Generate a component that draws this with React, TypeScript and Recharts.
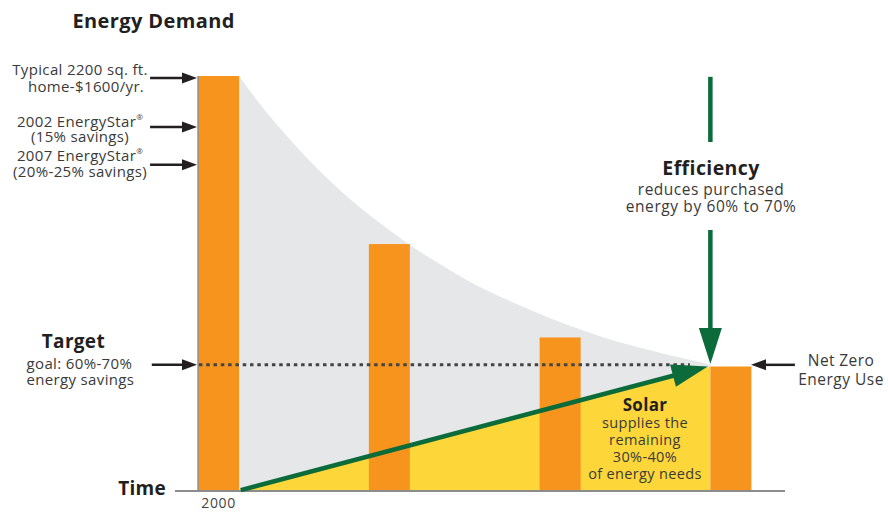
import React from 'react';
import { ComposedChart, Bar, Area, XAxis, YAxis, ReferenceLine, ReferenceDot } from 'recharts';

// ---- data ----
const steps = [0, 1, 2, 3];
const demand = [100, 59.5, 37, 30];
const tickLabels = ['2000'];
const demandCurveX = [0.12, 0.196, 0.354, 0.512, 0.711, 0.986, 1.121, 1.256, 1.455, 1.841, 2.234, 2.626, 2.88];
const demandCurveY = [100, 95.7, 87.7, 80.5, 72.5, 63.3, 59.3, 55.7, 50.8, 43.4, 37.3, 32.9, 30.5];
const solarX = [0.12, 2.88];
const solarY = [0, 30];
const markerLevels = [99.5, 87.7, 78.6]; // typical, EnergyStar 2002, EnergyStar 2007
const targetLevel = 30.4;

const barData = steps.map((t, i) => ({ t, demand: demand[i] }));
const grayData = demandCurveX.map((t, i) => ({ t, v: demandCurveY[i] }));
const solarData = solarX.map((t, i) => ({ t, v: solarY[i] }));

const FONT = '"Open Sans", "DejaVu Sans", sans-serif';
const ORANGE = '#F7941E';
const GREEN = '#0B6B3A';
const DARK = '#231F20';
const TXT = '#3A3A3A';
const BAR_W = 41;

const arrowShape = (color: string, w: number, headLen: number, headW: number, head = true) => (p: any) => {
  const { x1, y1, x2, y2 } = p;
  const dx = x2 - x1;
  const dy = y2 - y1;
  const L = Math.hypot(dx, dy) || 1;
  const ux = dx / L;
  const uy = dy / L;
  if (!head) return <line x1={x1} y1={y1} x2={x2} y2={y2} stroke={color} strokeWidth={w} />;
  const bx = x2 - ux * headLen;
  const by = y2 - uy * headLen;
  const nx = -uy;
  const ny = ux;
  return (
    <g>
      <line x1={x1} y1={y1} x2={bx + ux * 2} y2={by + uy * 2} stroke={color} strokeWidth={w} />
      <polygon
        points={`${x2},${y2} ${bx + (nx * headW) / 2},${by + (ny * headW) / 2} ${bx - (nx * headW) / 2},${by - (ny * headW) / 2}`}
        fill={color}
      />
    </g>
  );
};

const barShape = (p: any) => {
  const cx = p.x + p.width / 2;
  return <rect x={cx - BAR_W / 2} y={p.y} width={BAR_W} height={p.height} fill={ORANGE} />;
};

type TL = { text: string; dy: number; dx?: number; size: number; bold?: boolean; sup?: string; ls?: number };
const textBlock = (lines: TL[], anchor: 'start' | 'middle' | 'end' = 'middle') => (props: any) => {
  const vb = props.viewBox || {};
  const x = (vb.x ?? 0) + (vb.width ?? 0) / 2;
  const y = (vb.y ?? 0) + (vb.height ?? 0) / 2;
  return (
    <g>
      {lines.map((l, i) => (
        <text
          key={i}
          x={x + (l.dx || 0)}
          y={y + l.dy}
          textAnchor={anchor}
          fontFamily={FONT}
          fontSize={l.size}
          fontWeight={l.bold ? 700 : 400}
          fill={l.bold ? DARK : TXT}
          letterSpacing={l.ls ?? (l.bold ? 0.3 : 0.35)}
        >
          {l.text}
          {l.sup ? (
            <tspan fontSize={8} dy={-7}>
              {l.sup}
            </tspan>
          ) : null}
        </text>
      ))}
    </g>
  );
};

const blackArrow = arrowShape(DARK, 2.5, 15, 11);
const greenArrow = arrowShape(GREEN, 4.5, 36, 23);
const greenLine = arrowShape(GREEN, 4.5, 0, 0, false);

const leftX0 = -0.401;
const leftX1 = -0.126;

export default function App() {
  return (
    <div style={{ width: 888, height: 512 }}>
      <style>{'body{margin:0}'}</style>
      <ComposedChart
        width={888}
        height={512}
        data={barData}
        margin={{ top: 76, right: 103, left: 175, bottom: 0 }}
      >
        <XAxis
          dataKey="t"
          type="number"
          domain={[-0.255, 3.317]}
          allowDataOverflow
          ticks={[0]}
          tickFormatter={(v: number) => tickLabels[steps.indexOf(v)] ?? ''}
          tickLine={false}
          axisLine={{ stroke: '#8C8C8C', strokeWidth: 2 }}
          height={21}
          tickMargin={1}
          tick={{ fontSize: 14, fill: '#444', fontFamily: FONT, letterSpacing: 0.6 }}
        />
        <YAxis type="number" domain={[0, 100]} hide allowDataOverflow />
        <Area
          data={grayData}
          dataKey="v"
          type="monotone"
          stroke="none"
          fill="#E6E7E8"
          fillOpacity={1}
          isAnimationActive={false}
          dot={false}
          activeDot={false}
        />
        <Area
          data={solarData}
          dataKey="v"
          type="linear"
          stroke="none"
          fill="#FDD73A"
          fillOpacity={1}
          isAnimationActive={false}
          dot={false}
          activeDot={false}
        />
        <Bar dataKey="demand" fill={ORANGE} shape={barShape} isAnimationActive={false} />

        {/* y axis line at first bar */}
        <ReferenceLine
          segment={[{ x: -0.12, y: 0 }, { x: -0.12, y: 100 }]}
          stroke="#8C8C8C"
          strokeWidth={1.5}
          ifOverflow="visible"
          zIndex={1500}
        />
        {/* dotted target line */}
        <ReferenceLine
          segment={[{ x: -0.115, y: targetLevel }, { x: 2.76, y: targetLevel }]}
          stroke="#444"
          strokeWidth={3}
          strokeDasharray="3.5 3.8"
          ifOverflow="visible"
          zIndex={1500}
        />
        {/* left markers */}
        {markerLevels.map((lv, i) => (
          <ReferenceLine
            key={'m' + i}
            segment={[{ x: leftX0, y: lv }, { x: leftX1, y: lv }]}
            shape={blackArrow}
            ifOverflow="visible"
            zIndex={1500}
          />
        ))}
        <ReferenceLine
          segment={[{ x: leftX0 + 0.01, y: targetLevel }, { x: leftX1, y: targetLevel }]}
          shape={blackArrow}
          ifOverflow="visible"
          zIndex={1500}
        />
        {/* net zero arrow */}
        <ReferenceLine
          segment={[{ x: 3.375, y: targetLevel }, { x: 3.118, y: targetLevel }]}
          shape={blackArrow}
          ifOverflow="visible"
          zIndex={1500}
        />
        {/* green solar arrow */}
        <ReferenceLine
          segment={[{ x: 0.13, y: 0.2 }, { x: 2.865, y: 30 }]}
          shape={greenArrow}
          ifOverflow="visible"
          zIndex={1500}
        />
        {/* green efficiency arrow */}
        <ReferenceLine
          segment={[{ x: 2.88, y: 99.8 }, { x: 2.88, y: 84.1 }]}
          shape={greenLine}
          ifOverflow="visible"
          zIndex={1500}
        />
        <ReferenceLine
          segment={[{ x: 2.88, y: 62.9 }, { x: 2.88, y: 30.6 }]}
          shape={greenArrow}
          ifOverflow="visible"
          zIndex={1500}
        />

        {/* text annotations */}
        <ReferenceDot
          x={-0.38}
          y={111.6}
          r={0}
          ifOverflow="visible"
          zIndex={2000}
          label={textBlock([{ text: 'Energy Demand', dy: 0, size: 20, bold: true, ls: 0.4 }])}
        />
        <ReferenceDot
          x={-0.811}
          y={100.2}
          r={0}
          ifOverflow="visible"
          zIndex={2000}
          label={textBlock([
            { text: 'Typical 2200 sq. ft.', dy: 0, size: 15 },
            { text: 'home-$1600/yr.', dy: 16.5, dx: 6, size: 15 },
          ])}
        />
        <ReferenceDot
          x={-0.811}
          y={87.8}
          r={0}
          ifOverflow="visible"
          zIndex={2000}
          label={textBlock([
            { text: '2002 EnergyStar', sup: '®', dy: 0, size: 15 },
            { text: '(15% savings)', dy: 15.5, size: 15 },
          ])}
        />
        <ReferenceDot
          x={-0.811}
          y={79.4}
          r={0}
          ifOverflow="visible"
          zIndex={2000}
          label={textBlock([
            { text: '2007 EnergyStar', sup: '®', dy: 0, size: 15 },
            { text: '(20%-25% savings)', dy: 16, size: 15 },
          ])}
        />
        <ReferenceDot
          x={-0.85}
          y={34.46}
          r={0}
          ifOverflow="visible"
          zIndex={2000}
          label={textBlock([
            { text: 'Target', dy: 0, size: 19, bold: true },
            { text: 'goal: 60%-70%', dy: 21, dx: 6, size: 15 },
            { text: 'energy savings', dy: 37, dx: 7, size: 15 },
          ])}
        />
        <ReferenceDot
          x={-0.307}
          y={-0.96}
          r={0}
          ifOverflow="visible"
          zIndex={2000}
          label={textBlock([{ text: 'Time', dy: 0, size: 19, bold: true }], 'end')}
        />
        <ReferenceDot
          x={2.884}
          y={76.1}
          r={0}
          ifOverflow="visible"
          zIndex={2000}
          label={textBlock([
            { text: 'Efficiency', dy: 0, size: 19.5, bold: true, ls: 0.4 },
            { text: 'reduces purchased', dy: 20, size: 15.5, ls: 0.5 },
            { text: 'energy by 60% to 70%', dy: 36.5, size: 15.5, ls: 0.6 },
          ])}
        />
        <ReferenceDot
          x={3.645}
          y={30.1}
          r={0}
          ifOverflow="visible"
          zIndex={2000}
          label={textBlock([
            { text: 'Net Zero', dy: 0, size: 15.5, ls: 0.4 },
            { text: 'Energy Use', dy: 19, size: 15.5, ls: 0.5 },
          ])}
        />
        <ReferenceDot
          x={2.497}
          y={19.35}
          r={0}
          ifOverflow="visible"
          zIndex={2000}
          label={textBlock([
            { text: 'Solar', dy: 0, size: 17, bold: true },
            { text: 'supplies the', dy: 17.5, size: 14.5 },
            { text: 'remaining', dy: 34.5, size: 14.5 },
            { text: '30%-40%', dy: 51, size: 14.5 },
            { text: 'of energy needs', dy: 68, size: 14.5 },
          ])}
        />
      </ComposedChart>
    </div>
  );
}
